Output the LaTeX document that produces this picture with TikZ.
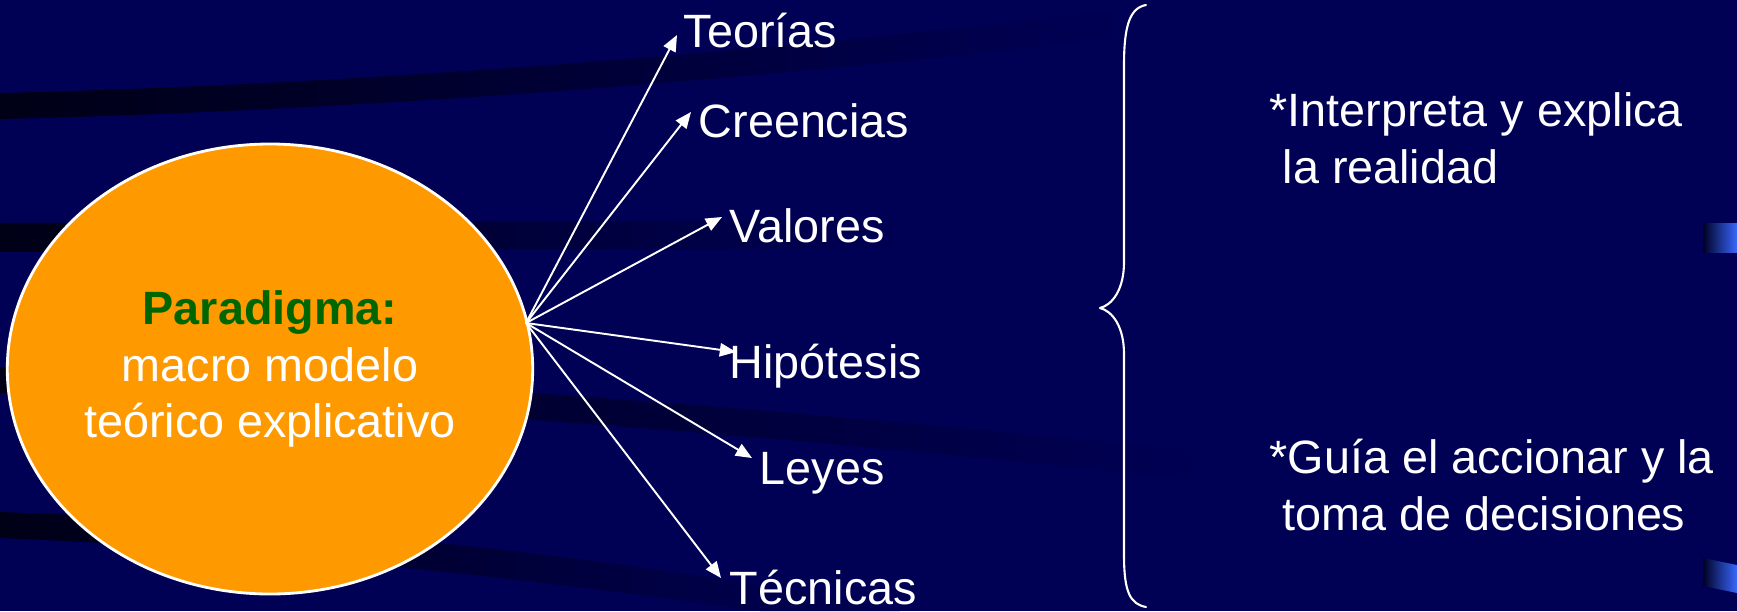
\documentclass[tikz,border=0pt]{standalone}
\usepackage{fontspec}
\setmainfont{Liberation Sans}
\usetikzlibrary{shapes.geometric,arrows.meta}
\definecolor{fondo}{RGB}{0,0,84}
\definecolor{franja}{RGB}{0,0,22}
\definecolor{naranja}{RGB}{255,153,0}
\definecolor{verde}{RGB}{0,102,0}
\definecolor{azulclaro}{RGB}{56,104,255}
\definecolor{azuloscuro}{RGB}{0,0,36}
\tikzset{
	etiqueta/.style={anchor=base west, inner sep=0pt, text=white, align=left},
	flecha/.style={white, line width=0.55pt, -{Triangle[length=4.6pt,width=3.8pt]}},
}
\begin{document}
\begin{tikzpicture}[x=0.1mm, y=-0.1mm, font=\fontsize{13.3}{16}\selectfont, line join=round, line cap=round]
	\useasboundingbox (0,0) rectangle (1737,611);
	\fill[fondo] (0,0) rectangle (1737,611);
	% franjas del fondo
	\shade[left color=franja, right color=fondo] (0,93) .. controls (300,86) and (700,60) .. (1120,10) -- (1120,37) .. controls (700,87) and (300,112) .. (0,119) -- cycle;
	\shade[left color=franja, right color=fondo] (0,223) -- (900,220) -- (900,248) -- (0,252) -- cycle;
	\shade[left color=franja, right color=fondo] (0,367) .. controls (400,378) and (800,410) .. (1200,452) -- (1200,480) .. controls (800,438) and (400,404) .. (0,393) -- cycle;
	\shade[left color=franja, right color=fondo] (0,512) .. controls (300,522) and (650,560) .. (900,611) -- (760,611) .. controls (500,575) and (250,548) .. (0,538) -- cycle;
	% vinetas
	\shade[left color=azuloscuro, right color=azulclaro] (1703,223) rectangle (1737,252);
	\shade[left color=azuloscuro, right color=azulclaro] (1703,558) -- (1737,565) -- (1737,593) -- (1703,586) -- cycle;
	\node[ellipse, fill=naranja, draw=white, line width=0.8pt, minimum width=5.1cm, minimum height=4.5cm,
		inner sep=0pt, align=center, text=white] (P) at (270,369)
		{{\bfseries\color{verde}Paradigma:}\\macro modelo\\teórico explicativo};
	\foreach \n/\t/\x/\y in {teo/Teorías/683/47, cre/Creencias/698/137, val/Valores/729/242,
		hip/Hipótesis/729/378, ley/Leyes/759/484, tec/Técnicas/729/604}
		\node[etiqueta] (\n) at (\x,\y) {\t};
	\path	(526,323) coordinate (O)
		(677,35) coordinate (pteo)
		(691,112) coordinate (pcre)
		(722,217) coordinate (pval)
		(736,352) coordinate (phip)
		(752,458) coordinate (pley)
		(721,578) coordinate (ptec);
	\foreach \n in {teo,cre,val,hip,ley,tec} \draw[flecha] (O)--(p\n);
	% llave
	\draw[white, line width=0.6pt] (1146,5) .. controls (1130,8) and (1124,25) .. (1124,65) -- (1124,262)
		.. controls (1124,290) and (1112,305) .. (1100,308) .. controls (1112,311) and (1124,326) .. (1124,354)
		-- (1124,555) .. controls (1124,592) and (1130,604) .. (1146,607);
	\node[etiqueta] (interpreta) at (1269,183) {*Interpreta y explica\\~la realidad};
	\node[etiqueta] (guia) at (1269,530) {*Guía el accionar y la\\~toma de decisiones};
\end{tikzpicture}
\end{document}
